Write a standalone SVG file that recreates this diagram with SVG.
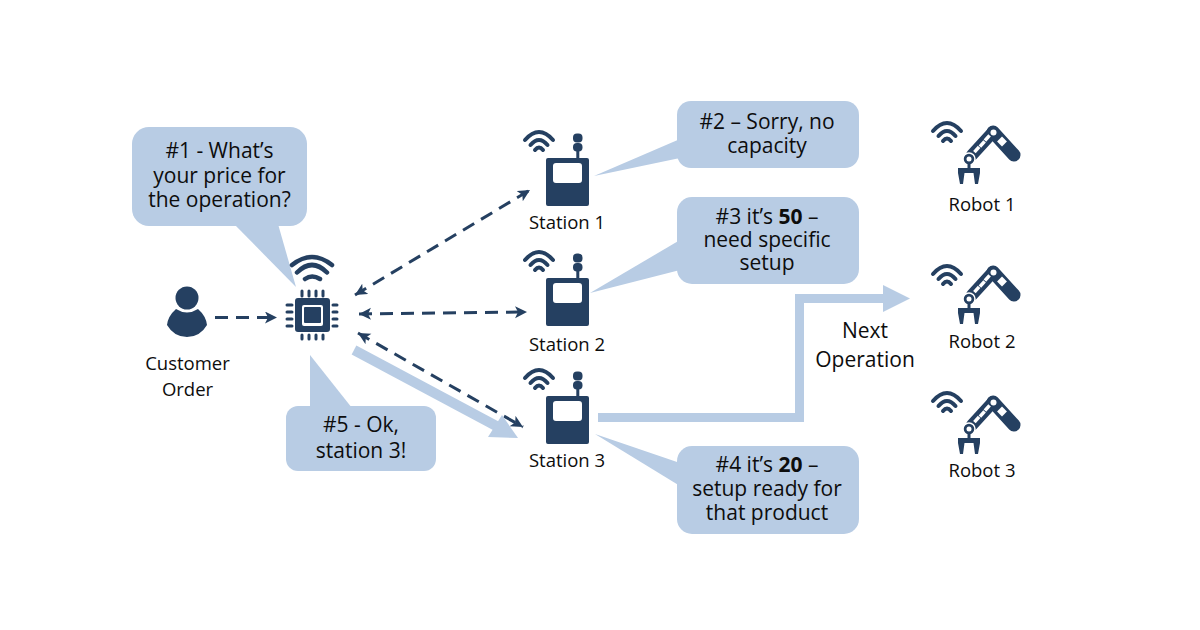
<svg xmlns="http://www.w3.org/2000/svg" xmlns:xlink="http://www.w3.org/1999/xlink" width="1200" height="630" viewBox="0 0 1200 630">
<style>
text{font-family:"Open Sans","Noto Sans","DejaVu Sans",sans-serif;fill:#0d0d0d;text-anchor:middle}
.l{font-size:18.500px}
.b{font-size:21px}
.n{font-size:21px}
.bub{fill:#b8cce4}
.d{fill:#254061}
.wf{fill:none;stroke:#254061;stroke-linecap:round;stroke-width:4}
.dash{fill:none;stroke:#254061;stroke-width:3;stroke-dasharray:13 8}
.thick{fill:none;stroke:#b8cce4}
</style>
<defs>
<marker id="ah" markerUnits="userSpaceOnUse" markerWidth="14" markerHeight="14" refX="12" refY="6" orient="auto-start-reverse"><path d="M0 0L12 6L0 12L3 6Z" fill="#254061"/></marker>
<g id="wifi">
<path class="wf" d="M2 10Q16 -6 30 10"/>
<path class="wf" d="M7.500 15Q16 5 24.500 15"/>
<path class="wf" d="M12 20Q16 15 20 20"/>
</g>
<g id="stationIcon">
<use xlink:href="#wifi" x="523" y="130"/>
<rect x="576.300" y="145" width="3" height="14" class="d"/>
<rect x="573" y="133.500" width="9.500" height="9" rx="4" class="d"/>
<rect x="573" y="143" width="9.500" height="8.500" rx="4" class="d"/>
<path class="d" fill-rule="evenodd" d="M548 158H587a2 2 0 0 1 2 2V204a2 2 0 0 1 -2 2H548a2 2 0 0 1 -2 -2V160a2 2 0 0 1 2 -2ZM556 163a3 3 0 0 0 -3 3V180a3 3 0 0 0 3 3H579a3 3 0 0 0 3 -3V166a3 3 0 0 0 -3 -3Z"/>
</g>
<g id="robotIcon">
<path fill="none" stroke="#254061" stroke-width="12" stroke-linecap="round" d="M972 155L993 132"/>
<path fill="none" stroke="#254061" stroke-width="13" stroke-linecap="round" d="M993 132L1014 155"/>
<g fill="#fff">
<rect x="975" y="146" width="3.500" height="7" transform="rotate(42 976.750 149.500)"/>
<rect x="980.500" y="140.500" width="3.500" height="7" transform="rotate(42 982.250 144)"/>
<rect x="985.500" y="134.500" width="3.500" height="7" transform="rotate(42 987.250 138)"/>
<circle cx="993.500" cy="132.500" r="3"/>
<rect x="998.500" y="138" width="7" height="7" transform="rotate(45 1002 141.500)"/>
</g>
<circle cx="969" cy="159" r="6" class="d" stroke="#fff" stroke-width="1.500"/>
<circle cx="969" cy="159" r="2.500" fill="#fff"/>
<rect x="967.500" y="164" width="3" height="5" class="d"/>
<path class="d" d="M958 168H980V173L978 184H975L973.500 173H964.500L963 184H960L958 173Z"/>
</g>
</defs>
<g id="connectors">
<path class="dash" marker-end="url(#ah)" d="M215 317.500H277"/>
<path class="dash" marker-start="url(#ah)" marker-end="url(#ah)" d="M355 295L530 190"/>
<path class="dash" marker-start="url(#ah)" marker-end="url(#ah)" d="M359 314L527 312"/>
<path class="dash" marker-start="url(#ah)" marker-end="url(#ah)" d="M358 333L523 427"/>
<path class="thick" stroke-width="10" d="M354 350L500 428"/>
<path class="bub" d="M518 438L488 437L502 415Z"/>
<path class="thick" stroke-width="9" d="M598 417.500H799.500V298.500H885"/>
<path class="bub" d="M910 298.500L883 285V312Z"/>
</g>
<g id="bubble1"><path class="bub" d="M234 224L296 287L278 224Z"/><rect class="bub" x="132" y="127" width="175" height="99" rx="17"/>
<text class="b"><tspan x="219.500" y="158">#1 - What’s</tspan><tspan x="219.500" y="183">your price for</tspan><tspan x="219.500" y="206.500">the operation?</tspan></text></g>
<g id="bubble2"><path class="bub" d="M680 139L594 176L680 158Z"/><rect class="bub" x="677" y="101" width="182" height="67" rx="14"/>
<text class="b"><tspan x="767" y="129">#2 – Sorry, no</tspan><tspan x="767" y="153">capacity</tspan></text></g>
<g id="bubble3"><path class="bub" d="M680 240L590 293L680 270Z"/><rect class="bub" x="677" y="197" width="182" height="87" rx="15"/>
<text class="b"><tspan x="767" y="224">#3 it’s <tspan font-weight="700">50</tspan> –</tspan><tspan x="767" y="246.500">need specific</tspan><tspan x="767" y="270">setup</tspan></text></g>
<g id="bubble4"><path class="bub" d="M680 463L595 434L680 486Z"/><rect class="bub" x="677" y="446" width="182" height="88" rx="15"/>
<text class="b"><tspan x="767" y="472">#4 it’s <tspan font-weight="700">20</tspan> –</tspan><tspan x="767" y="496">setup ready for</tspan><tspan x="767" y="520">that product</tspan></text></g>
<g id="bubble5"><path class="bub" d="M310 355L310 408L352 408Z"/><rect class="bub" x="286" y="406" width="150" height="65" rx="12"/>
<text class="b"><tspan x="361" y="432">#5 - Ok,</tspan><tspan x="361" y="458">station 3!</tspan></text></g>
<g id="customer">
<circle class="d" cx="187" cy="298" r="11.500"/>
<path class="d" d="M176 309Q187 316 198 309Q206 316 207 325Q200 337 187 337Q174 337 167 325Q168 316 176 309Z"/>
<text class="l"><tspan x="187.500" y="370">Customer</tspan><tspan x="187.500" y="396">Order</tspan></text>
</g>
<g id="controller">
<path class="wf" style="stroke-width:4.500px" d="M292 265Q312 249 332 265M297 272.500Q312 257.500 327 272.500M305 279Q312 274 320 279"/>
<rect class="d" x="295" y="298" width="35" height="34" rx="3"/>
<rect x="302" y="305" width="21" height="21" rx="2" fill="#fff"/>
<rect class="d" x="304" y="307" width="17" height="16" rx="1"/>
<path stroke="#254061" stroke-width="3" stroke-linecap="round" fill="none" d="M302 291V296M309 291V296M316 291V296M323 291V296M302 335V339M309 335V339M316 335V339M323 335V339M287 305H292M287 312H292M287 319H292M287 326H292M333 305H337M333 312H337M333 319H337M333 326H337"/>
</g>
<g id="station1"><use xlink:href="#stationIcon"/><text class="l" x="567" y="229">Station 1</text></g>
<g id="station2"><use xlink:href="#stationIcon" y="120"/><text class="l" x="567" y="351">Station 2</text></g>
<g id="station3"><use xlink:href="#stationIcon" y="238"/><text class="l" x="567" y="467">Station 3</text></g>
<g id="robot1"><use xlink:href="#wifi" x="931" y="121"/><use xlink:href="#robotIcon"/><text class="l" x="982" y="211">Robot 1</text></g>
<g id="robot2"><use xlink:href="#wifi" x="931" y="264"/><use xlink:href="#robotIcon" y="140"/><text class="l" x="982" y="348">Robot 2</text></g>
<g id="robot3"><use xlink:href="#wifi" x="931" y="391"/><use xlink:href="#robotIcon" y="270"/><text class="l" x="982" y="477">Robot 3</text></g>
<g id="nextOp"><text class="n"><tspan x="865" y="338">Next</tspan><tspan x="865" y="367">Operation</tspan></text></g>
</svg>
